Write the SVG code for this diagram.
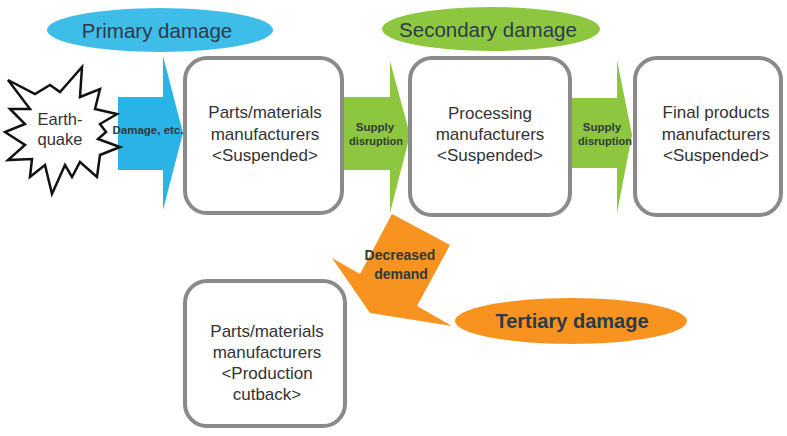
<svg xmlns="http://www.w3.org/2000/svg" width="787" height="436" viewBox="0 0 787 436">
<style>
.box{fill:#fff;stroke:#8a8a8a;stroke-width:4}
.t{font-family:"Liberation Sans",Arial,sans-serif;font-size:17px;fill:#333;text-anchor:middle}
.lab{font-family:"Liberation Sans",Arial,sans-serif;font-size:11px;font-weight:bold;fill:#2f3a3a;text-anchor:middle}
.big{font-family:"Liberation Sans",Arial,sans-serif;font-size:20.5px;fill:#2d3a48;text-anchor:middle}
.blue{fill:#29b3e6}
.green{fill:#8dc63f}
.orange{fill:#f7931e}
</style>
<rect width="787" height="436" fill="#fff"/>
<g id="connectors">
  <g id="arrow-damage">
    <polygon class="blue" points="118,97 163,97 163,56 183,133 163,210 163,170 118,170"/>
    <text class="lab" x="148" y="134" style="font-size:11.5px" fill="#2d3a48">Damage, etc.</text>
  </g>
  <g id="arrow-supply-1">
    <polygon class="green" points="341,97 390,97 390,61 410,135 390,213 390,170 341,170"/>
    <text class="lab" x="375" y="131" style="font-size:11.5px">Supply</text>
    <text class="lab" x="376" y="145">disruption</text>
  </g>
  <g id="arrow-supply-2">
    <polygon class="green" points="570,98 617,98 617,60 632,135 617,213 617,168 570,168"/>
    <text class="lab" x="602" y="131" style="font-size:11.5px">Supply</text>
    <text class="lab" x="605" y="145">disruption</text>
  </g>
  <g id="arrow-demand">
    <polygon class="orange" points="392,214 450,245 417,306 452,326 370,313 332,258 360,274"/>
    <text class="lab" x="400" y="260" style="font-size:14px">Decreased</text>
    <text class="lab" x="401" y="279" style="font-size:14px">demand</text>
  </g>
</g>
<g id="primary-damage">
  <ellipse cx="160" cy="30" rx="113" ry="22" fill="#3dbde8"/>
  <text class="big" x="157" y="38">Primary damage</text>
</g>
<g id="secondary-damage">
  <ellipse cx="491" cy="29" rx="109" ry="22" fill="#8dc63f"/>
  <text class="big" x="488" y="37">Secondary damage</text>
</g>
<g id="tertiary-damage">
  <ellipse cx="571" cy="321" rx="116" ry="23" fill="#f7931e"/>
  <text class="big" x="572" y="328" font-weight="bold" style="font-size:20px">Tertiary damage</text>
</g>
<g id="earthquake">
  <polygon points="8,80 35,94 50,85 60,92 82,67 80,97 100,89 95,109 117,114 100,124 106,132 98,139 120,147 100,155 97,177 80,162 72,177 65,165 52,194 45,165 30,177 32,159 8,160 25,145 5,132 25,124 10,109 30,109" fill="#fff" stroke="#111" stroke-width="2.5" stroke-linejoin="miter"/>
  <text class="t" x="60" y="125" style="font-size:16.5px">Earth-</text>
  <text class="t" x="60" y="145" style="font-size:16.5px">quake</text>
</g>
<g id="parts-suspended">
  <rect class="box" x="185" y="58" width="157" height="155" rx="22"/>
  <text class="t" x="265" y="118">Parts/materials</text>
  <text class="t" x="265" y="139.5">manufacturers</text>
  <text class="t" x="265" y="161">&lt;Suspended&gt;</text>
</g>
<g id="processing-suspended">
  <rect class="box" x="410" y="58" width="160" height="157" rx="22"/>
  <text class="t" x="490" y="119">Processing</text>
  <text class="t" x="490" y="140">manufacturers</text>
  <text class="t" x="490" y="161">&lt;Suspended&gt;</text>
</g>
<g id="final-suspended">
  <rect class="box" x="635" y="58" width="146" height="157" rx="22"/>
  <text class="t" x="716" y="118">Final products</text>
  <text class="t" x="716" y="139.5">manufacturers</text>
  <text class="t" x="716" y="161">&lt;Suspended&gt;</text>
</g>
<g id="parts-cutback">
  <rect class="box" x="185" y="281" width="160" height="145" rx="22"/>
  <text class="t" x="267" y="337">Parts/materials</text>
  <text class="t" x="267" y="358">manufacturers</text>
  <text class="t" x="267" y="379">&lt;Production</text>
  <text class="t" x="267" y="400">cutback&gt;</text>
</g>
</svg>
